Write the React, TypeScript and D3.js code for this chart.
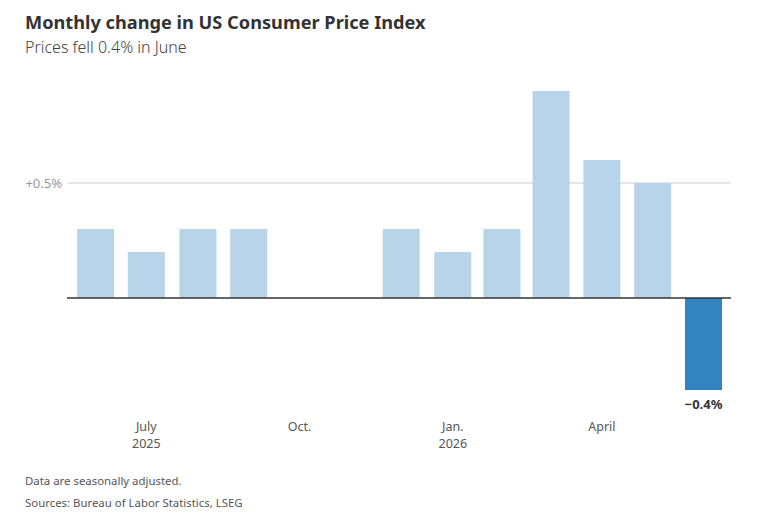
import { useEffect, useRef } from 'react'
import * as d3 from 'd3'

// Monthly CPI change, % (null = no data published)
const months = [
  '2025-06', '2025-07', '2025-08', '2025-09', '2025-10', '2025-11', '2025-12',
  '2026-01', '2026-02', '2026-03', '2026-04', '2026-05', '2026-06',
]
const values: (number | null)[] = [0.3, 0.2, 0.3, 0.3, null, null, 0.3, 0.2, 0.3, 0.9, 0.6, 0.5, -0.4]
const yTicks = [0.5]
const xTickMonths = ['2025-07', '2025-10', '2026-01', '2026-04']
const xTickLabels = ['July', 'Oct.', 'Jan.', 'April']
const xTickYears = ['2025', '', '2026', '']

const W = 771
const H = 525
const FONT = '"Noto Sans", "Open Sans", sans-serif'

const parseMonth = d3.timeParse('%Y-%m')
const midMonth = (m: string) => {
  const start = parseMonth(m) as Date
  const end = d3.timeMonth.offset(start, 1)
  return new Date((start.getTime() + end.getTime()) / 2)
}

export default function App() {
  const svgRef = useRef<SVGSVGElement>(null)

  useEffect(() => {
    const svg = d3.select(svgRef.current)
    svg.selectAll('*').remove()

    const x = d3.scaleTime()
      .domain([midMonth(months[0]), midMonth(months[months.length - 1])])
      .range([95.5, 703.5])
    const y = d3.scaleLinear().domain([0, 0.5]).range([298, 183])
    const barW = 37

    // title block
    svg.append('text').attr('x', 25).attr('y', 29)
      .attr('font-family', FONT).attr('font-size', 18.2).attr('font-weight', 700)
      .attr('fill', '#333').text('Monthly change in US Consumer Price Index')
    svg.append('text').attr('x', 25).attr('y', 53)
      .attr('font-family', FONT).attr('font-size', 16).attr('font-weight', 300)
      .attr('fill', '#444').text('Prices fell 0.4% in June')

    // grid
    yTicks.forEach((t) => {
      svg.append('line')
        .attr('x1', 68).attr('x2', 731).attr('y1', y(t)).attr('y2', y(t))
        .attr('stroke', '#ccc').attr('stroke-width', 1)
      svg.append('text').attr('x', 62).attr('y', y(t) + 4.5)
        .attr('text-anchor', 'end').attr('font-family', FONT).attr('font-size', 13)
        .attr('fill', '#999').text(`+${t}%`)
    })

    // bars
    const last = months.length - 1
    months.forEach((m, i) => {
      const v = values[i]
      if (v == null) return
      const cx = x(midMonth(m))
      svg.append('rect')
        .attr('x', cx - barW / 2).attr('width', barW)
        .attr('y', Math.min(y(v), y(0))).attr('height', Math.abs(y(v) - y(0)))
        .attr('fill', i === last ? '#3383c0' : '#b7d4e9')
    })

    // zero line
    svg.append('line')
      .attr('x1', 67).attr('x2', 731).attr('y1', y(0)).attr('y2', y(0))
      .attr('stroke', '#333').attr('stroke-width', 1.3)

    // last value label
    const lv = values[last] as number
    svg.append('text')
      .attr('x', x(midMonth(months[last]))).attr('y', y(lv) + 19)
      .attr('text-anchor', 'middle').attr('font-family', FONT).attr('font-size', 13)
      .attr('font-weight', 700).attr('fill', '#333')
      .text(`\u2212${Math.abs(lv)}%`)

    // x axis labels
    xTickMonths.forEach((m, i) => {
      const cx = x(midMonth(m))
      svg.append('text').attr('x', cx).attr('y', 431)
        .attr('text-anchor', 'middle').attr('font-family', FONT).attr('font-size', 12.5)
        .attr('fill', '#555').text(xTickLabels[i])
      if (xTickYears[i])
        svg.append('text').attr('x', cx).attr('y', 448)
          .attr('text-anchor', 'middle').attr('font-family', FONT).attr('font-size', 12.5)
          .attr('fill', '#555').text(xTickYears[i])
    })

    // footer
    svg.append('text').attr('x', 25).attr('y', 485)
      .attr('font-family', FONT).attr('font-size', 11.4).attr('fill', '#555')
      .text('Data are seasonally adjusted.')
    svg.append('text').attr('x', 25).attr('y', 507)
      .attr('font-family', FONT).attr('font-size', 11.4).attr('fill', '#555')
      .text('Sources: Bureau of Labor Statistics, LSEG')
  }, [])

  return (
    <svg ref={svgRef} width={W} height={H}
      style={{ position: 'absolute', left: 0, top: 0, background: '#fff' }} />
  )
}
